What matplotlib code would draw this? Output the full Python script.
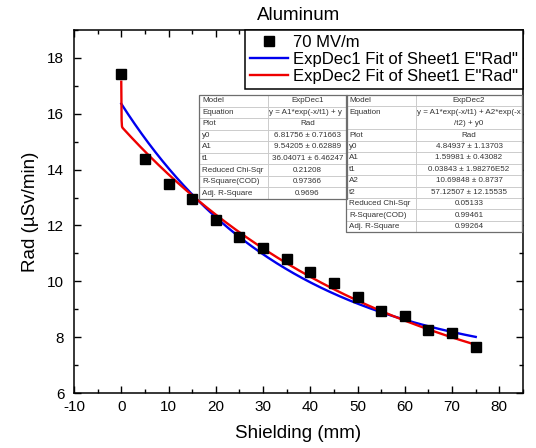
import numpy as np
import matplotlib
matplotlib.use('Agg')
import matplotlib.pyplot as plt
from matplotlib.patches import Rectangle
from matplotlib.ticker import MultipleLocator

plt.rcParams['font.family'] = ['Liberation Sans', 'DejaVu Sans']
plt.rcParams['axes.unicode_minus'] = False

# Measured dose rate behind aluminium shielding
shielding = [0, 5, 10, 15, 20, 25, 30, 35, 40, 45, 50, 55, 60, 65, 70, 75]
rad = [17.42, 14.37, 13.48, 12.95, 12.21, 11.58, 11.20, 10.79, 10.33, 9.93,
       9.44, 8.93, 8.75, 8.25, 8.14, 7.64]

# ExpDec1 fit: y = A1*exp(-x/t1) + y0
dec1_names = ['y0', 'A1', 't1']
dec1_vals = [6.81756, 9.54205, 36.04071]
dec1_errs = ['0.71663', '0.62889', '6.46247']
dec1_stats = ['0.21208', '0.97366', '0.9696']

# ExpDec2 fit: y = A1*exp(-x/t1) + A2*exp(-x/t2) + y0
dec2_names = ['y0', 'A1', 't1', 'A2', 't2']
dec2_vals = [4.84937, 1.59981, 0.03843, 10.69848, 57.12507]
dec2_errs = ['1.13703', '0.43082', '1.98276E52', '0.8737', '12.15535']
dec2_stats = ['0.05133', '0.99461', '0.99264']

stat_names = ['Reduced Chi-Sqr', 'R-Square(COD)', 'Adj. R-Square']

W, H = 536, 448
fig = plt.figure(figsize=(W / 100, H / 100), dpi=100)
ax = fig.add_axes([74 / W, 1 - 393 / H, (523 - 74) / W, (393 - 30) / H])

xf = np.linspace(0, 75, 1000)
y0, a1, t1 = dec1_vals
fit1 = a1 * np.exp(-xf / t1) + y0
y0b, a1b, t1b, a2b, t2b = dec2_vals
fit2 = a1b * np.exp(-xf / t1b) + a2b * np.exp(-xf / t2b) + y0b

ax.plot(shielding, rad, 's', color='black', markersize=6.5, label='70 MV/m', zorder=3)
ax.plot(xf, fit1, color='#0000ee', lw=1.7, label='ExpDec1 Fit of Sheet1 E"Rad"', zorder=2)
ax.plot(xf, fit2, color='#ee0000', lw=1.7, label='ExpDec2 Fit of Sheet1 E"Rad"', zorder=2)

ax.set_xlim(-10, 85)
ax.set_ylim(6, 19)
ax.xaxis.set_major_locator(MultipleLocator(10))
ax.xaxis.set_minor_locator(MultipleLocator(5))
ax.yaxis.set_major_locator(MultipleLocator(2))
ax.yaxis.set_minor_locator(MultipleLocator(1))
ax.tick_params(which='both', direction='in', top=True, right=True, width=1)
ax.tick_params(which='major', length=5)
ax.tick_params(which='minor', length=3)
ax.tick_params(axis='x', labelsize=11, pad=5)
ax.tick_params(axis='y', labelsize=11, pad=7)
for sp in ax.spines.values():
    sp.set_linewidth(1.1)

ax.set_xlabel('Shielding (mm)', fontsize=13.5, labelpad=8)
ax.set_ylabel('Rad (µSv/min)', fontsize=13.5, labelpad=6)
ax.set_title('Aluminum', fontsize=13.5, pad=7)

leg = ax.legend(loc='upper left', bbox_to_anchor=((245 - 74) / 449, 1.0),
                borderaxespad=0, borderpad=0.3, handlelength=2.3,
                handletextpad=0.3, labelspacing=0.12, fontsize=12,
                fancybox=False, framealpha=1, edgecolor='black')
leg.get_frame().set_linewidth(1.1)


def fx(px):
    return px / W


def fy(py):
    return 1 - py / H


def draw_table(rows, x0, xdiv, x1, ytop, unit):
    fs = 5.8
    col = '#333333'
    y = ytop
    for label, lines in rows:
        h = unit * len(lines)
        for a, b in ((x0, xdiv), (xdiv, x1)):
            cell = Rectangle((fx(a), fy(y + h)), fx(b - a), h / H, transform=fig.transFigure,
                             facecolor='white', edgecolor='#c8c8c8', lw=0.6, zorder=5)
            fig.add_artist(cell)
        fig.text(fx(x0 + 3), fy(y + unit / 2), label, fontsize=fs, color=col,
                 va='center', ha='left', zorder=6)
        clip = Rectangle((fx(xdiv), fy(y + h)), fx(x1 - xdiv), h / H,
                         transform=fig.transFigure, visible=False)
        fig.add_artist(clip)
        for i, txt in enumerate(lines):
            yy = fy(y + unit * (i + 0.5))
            # long equations overflow the cell, so they start at its left edge
            if txt.startswith('y ='):
                t = fig.text(fx(xdiv + 1), yy, txt, fontsize=fs, color=col,
                             va='center', ha='left', zorder=6)
            else:
                t = fig.text(fx((xdiv + x1) / 2), yy, txt, fontsize=fs, color=col,
                             va='center', ha='center', zorder=6)
            t.set_clip_path(clip)
        y += h
    total = y - ytop
    frame = Rectangle((fx(x0), fy(ytop + total)), fx(x1 - x0), total / H,
                      transform=fig.transFigure, facecolor='none',
                      edgecolor='#6e6e6e', lw=0.9, zorder=7)
    fig.add_artist(frame)


rows1 = [('Model', ['ExpDec1']),
         ('Equation', ['y = A1*exp(-x/t1) + y']),
         ('Plot', ['Rad'])]
rows1 += [(n, [f'{v:.5f} ± {e}']) for n, v, e in zip(dec1_names, dec1_vals, dec1_errs)]
rows1 += [(n, [s]) for n, s in zip(stat_names, dec1_stats)]

rows2 = [('Model', ['ExpDec2']),
         ('Equation', ['y = A1*exp(-x/t1) + A2*exp(-x', '/t2) + y0']),
         ('Plot', ['Rad'])]
rows2 += [(n, [f'{v:.5f} ± {e}']) for n, v, e in zip(dec2_names, dec2_vals, dec2_errs)]
rows2 += [(n, [s]) for n, s in zip(stat_names, dec2_stats)]

draw_table(rows1, 199, 268, 347, 95, 11.55)
draw_table(rows2, 346, 416, 522, 95, 11.45)

plt.savefig('out.png', dpi=100)
